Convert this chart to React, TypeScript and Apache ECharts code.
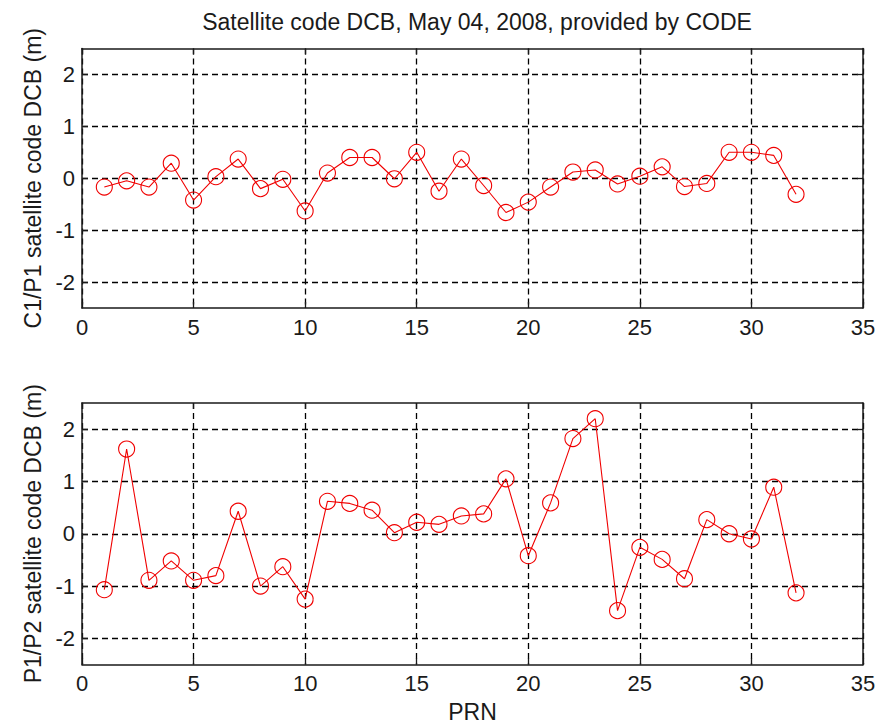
import React, { useEffect, useRef } from "react";
import * as echarts from "echarts";

// PRN numbers of the GPS satellites
const prn: number[] = Array.from({ length: 32 }, (_, i) => i + 1);

// C1/P1 satellite code DCB (m)
const c1p1: number[] = [
  -0.17, -0.05, -0.17, 0.29, -0.42, 0.03, 0.37, -0.2, -0.02, -0.63,
  0.1, 0.4, 0.4, -0.01, 0.5, -0.25, 0.37, -0.14, -0.66, -0.46,
  -0.17, 0.12, 0.16, -0.11, 0.04, 0.22, -0.16, -0.1, 0.5, 0.5,
  0.44, -0.31,
];

// P1/P2 satellite code DCB (m)
const p1p2: number[] = [
  -1.07, 1.62, -0.89, -0.52, -0.89, -0.8, 0.43, -1.0, -0.63, -1.25,
  0.62, 0.58, 0.45, 0.02, 0.22, 0.18, 0.34, 0.38, 1.05, -0.42,
  0.59, 1.82, 2.2, -1.47, -0.26, -0.49, -0.86, 0.27, 0.0, -0.1,
  0.89, -1.13,
];

const xTicks: number[] = [0, 5, 10, 15, 20, 25, 30, 35];
const yTicks: number[] = [-2, -1, 0, 1, 2];

const titleText = "Satellite code DCB, May 04, 2008, provided by CODE";
const yNames: string[] = ["C1/P1 satellite code DCB (m)", "P1/P2 satellite code DCB (m)"];
const xName = "PRN";

const FONT = "'Liberation Sans', Arial, Helvetica, sans-serif";
const INK = "#1a1a1a";
const RED = "#f00000";

export default function App() {
  const ref = useRef<HTMLDivElement>(null);

  useEffect(() => {
    if (!ref.current) return;
    const chart = echarts.init(ref.current, null, { renderer: "svg" });

    const grids = [
      { left: 82, right: 21, top: 48.5, height: 259.5 },
      { left: 82, right: 21, top: 403, height: 261.5 },
    ];

    const dashed = { show: true, lineStyle: { color: "#000", type: [6, 4] as number[], width: 1.3 } };
    const boxLine = { show: true, onZero: false, lineStyle: { color: INK, width: 1.5 } };
    const tickIn = (vals: number[]) => ({
      show: true,
      inside: true,
      length: 6,
      customValues: vals,
      lineStyle: { color: INK, width: 1.3 },
    });

    const xAxes: any[] = [];
    const yAxes: any[] = [];
    [0, 1].forEach((g) => {
      // bottom x axis with labels and vertical grid
      xAxes.push({
        type: "value",
        gridIndex: g,
        min: 0,
        max: 35,
        interval: 5,
        position: "bottom",
        axisLine: boxLine,
        axisTick: tickIn(xTicks),
        axisLabel: {
          show: true,
          customValues: xTicks,
          color: INK,
          fontFamily: FONT,
          fontSize: 22,
          margin: 8,
        },
        splitLine: dashed,
        name: g === 1 ? xName : "",
        nameLocation: "middle",
        nameGap: 36,
        nameTextStyle: { color: INK, fontFamily: FONT, fontSize: 23 },
      });
      // top edge of the box
      xAxes.push({
        type: "value",
        gridIndex: g,
        min: 0,
        max: 35,
        interval: 5,
        position: "top",
        axisLine: boxLine,
        axisTick: tickIn(xTicks),
        axisLabel: { show: false },
        splitLine: { show: false },
      });
      // left y axis with labels and horizontal grid
      yAxes.push({
        type: "value",
        gridIndex: g,
        min: -2.5,
        max: 2.5,
        position: "left",
        axisLine: boxLine,
        axisTick: tickIn(yTicks),
        axisLabel: {
          show: true,
          customValues: yTicks,
          color: INK,
          fontFamily: FONT,
          fontSize: 22,
          margin: 7,
        },
        splitLine: dashed,
        name: yNames[g],
        nameLocation: "middle",
        nameGap: 35,
        nameTextStyle: { color: INK, fontFamily: FONT, fontSize: 23 },
      });
      // right edge of the box
      yAxes.push({
        type: "value",
        gridIndex: g,
        min: -2.5,
        max: 2.5,
        position: "right",
        axisLine: boxLine,
        axisTick: tickIn(yTicks),
        axisLabel: { show: false },
        splitLine: { show: false },
      });
    });

    const mkSeries = (vals: number[], g: number) => ({
      type: "line",
      xAxisIndex: g * 2,
      yAxisIndex: g * 2,
      data: prn.map((p, i) => [p, vals[i]]),
      symbol: "circle",
      symbolSize: 16,
      showSymbol: true,
      lineStyle: { color: RED, width: 1.1 },
      itemStyle: { color: "rgba(0,0,0,0)", borderColor: RED, borderWidth: 1.1 },
      z: 5,
    });

    chart.setOption({
      animation: false,
      backgroundColor: "#ffffff",
      title: {
        text: titleText,
        left: 472,
        textAlign: "center",
        top: 5,
        textStyle: { color: INK, fontFamily: FONT, fontSize: 23, fontWeight: "normal" },
      },
      grid: grids,
      xAxis: xAxes,
      yAxis: yAxes,
      series: [mkSeries(c1p1, 0), mkSeries(p1p2, 1)],
    });

    return () => chart.dispose();
  }, []);

  return (
    <div
      ref={ref}
      style={{ position: "fixed", left: 0, top: 0, width: 884, height: 725, background: "#fff" }}
    />
  );
}
